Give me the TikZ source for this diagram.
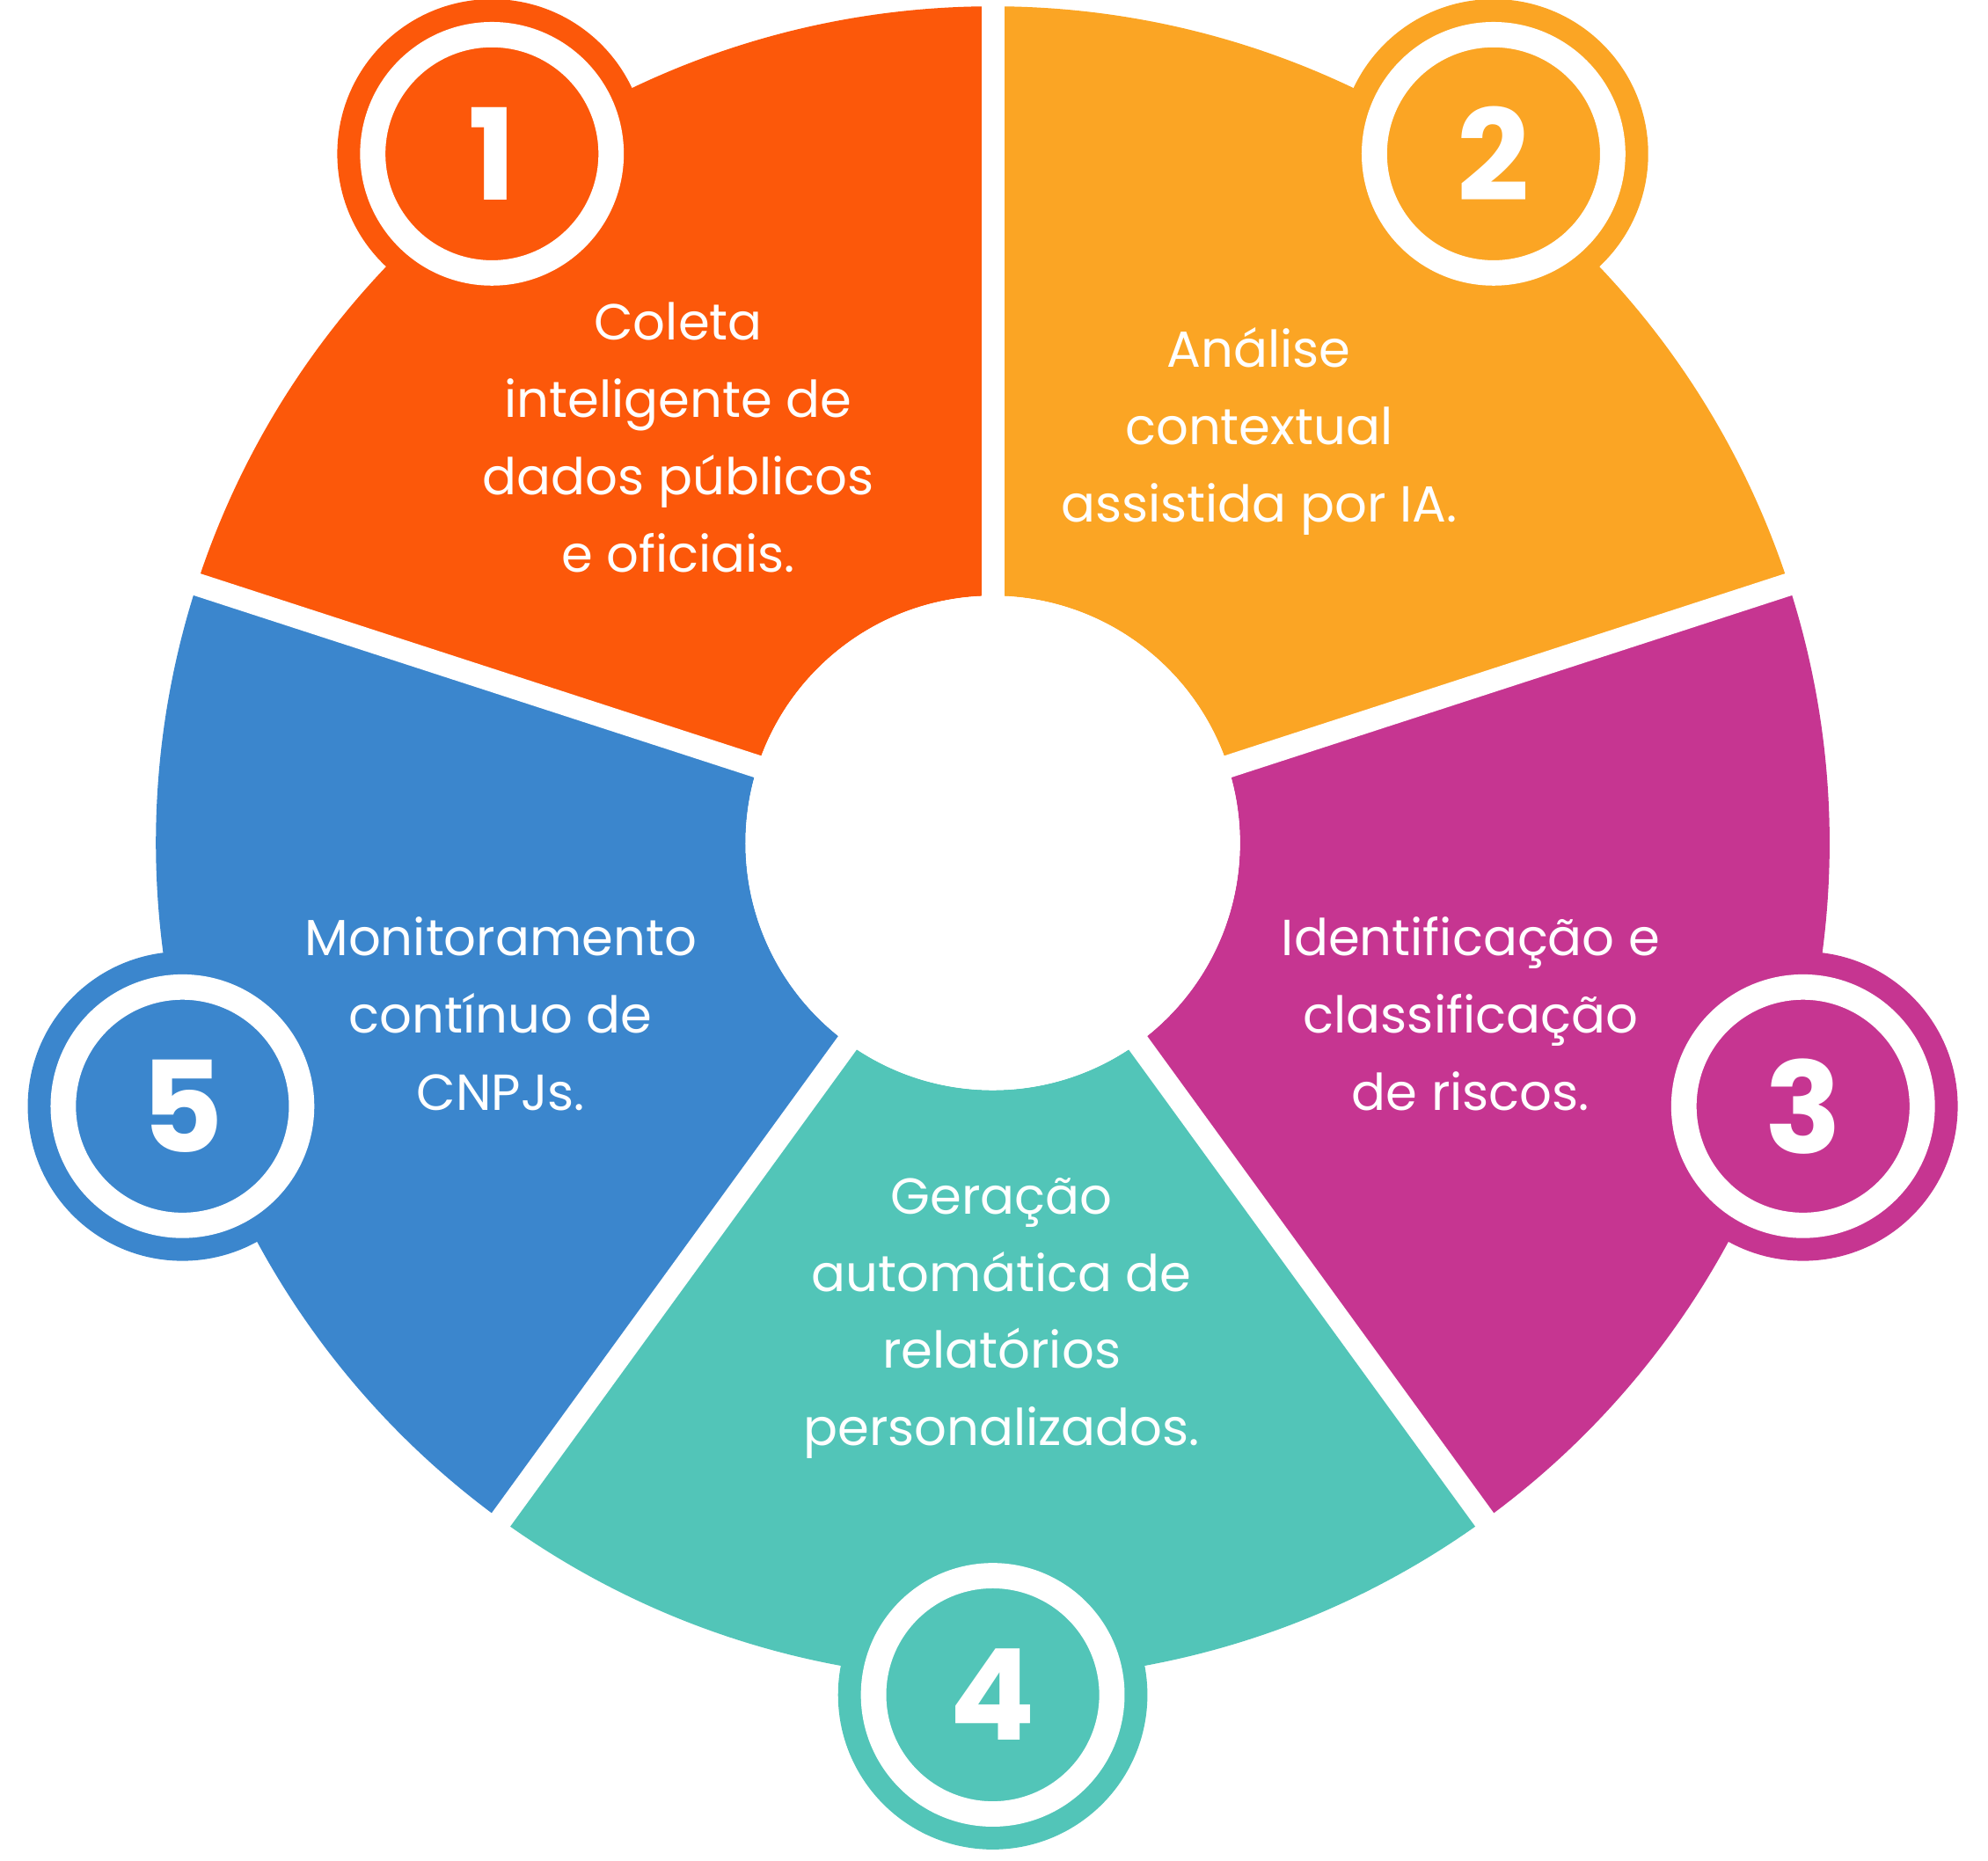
\documentclass[tikz,border=0pt]{standalone}
\usepackage{fontspec}
\setmainfont{Poppins}
\definecolor{cA}{HTML}{FC580A}
\definecolor{cB}{HTML}{FBA524}
\definecolor{cC}{HTML}{C63591}
\definecolor{cD}{HTML}{52C5B8}
\definecolor{cE}{HTML}{3B86CD}
\begin{document}
\begin{tikzpicture}[x=1pt,y=1pt,
  lbl/.style={text=white,align=center,font=\fontsize{40}{61}\selectfont},
  num/.style={text=white,font=\bfseries\fontsize{100}{100}\selectfont}]
\useasboundingbox (0,0) rectangle (1568,1468);
\coordinate (c) at (783,803);
\def\Ri{195}\def\Ro{660}
\foreach \a/\col in {90/cA,18/cB,-54/cC,-126/cD,162/cE}{
  \fill[\col] ([shift={(\a:\Ri)}]c) arc[start angle=\a,delta angle=72,radius=\Ri]
    -- ([shift={(\a+72:\Ro)}]c) arc[start angle=\a+72,delta angle=-72,radius=\Ro] -- cycle;
}
\foreach \a in {90,18,-54,-126,162}
  \draw[white,line width=18] (c) -- ([shift={(\a:\Ro+20)}]c);
\fill[white] (c) circle (\Ri);
\foreach \a/\col/\n [count=\i] in {126/cA/1,54/cB/2,-18/cC/3,-90/cD/4,198/cE/5}{
  \fill[\col] ([shift={(\a:672)}]c) circle (122);
  \draw[white,line width=20] ([shift={(\a:672)}]c) circle (94);
  \node[num] (n\i) at ([shift={(\a:672)}]c) {\n};
}
\node[lbl] (t1) at (535,1123) {Coleta\\inteligente de\\dados públicos\\e oficiais.};
\node[lbl] (t2) at (993,1128) {Análise\\contextual\\assistida por IA.};
\node[lbl] (t3) at (1160,668) {Identificação e\\classificação\\de riscos.};
\node[lbl] (t4) at (790,428) {Geração\\automática de\\relatórios\\personalizados.};
\node[lbl] (t5) at (395,668) {Monitoramento\\contínuo de\\CNPJs.};
\end{tikzpicture}
\end{document}
